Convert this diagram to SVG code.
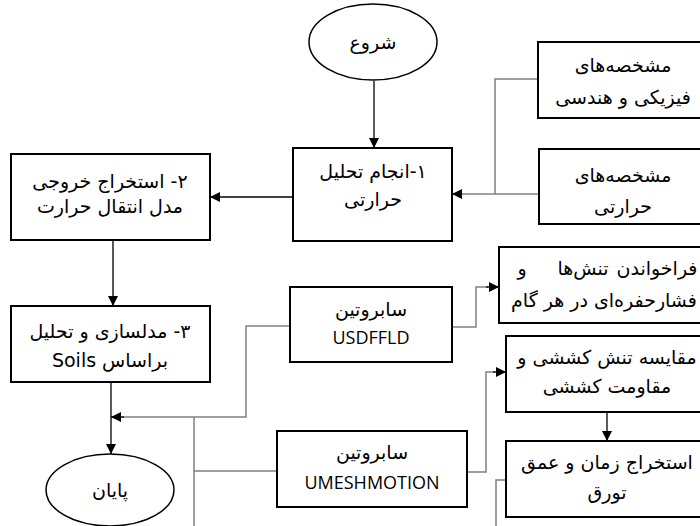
<svg xmlns="http://www.w3.org/2000/svg" width="700" height="526" viewBox="0 0 700 526">
<defs>
<marker id="ah" viewBox="0 0 10 10" refX="10" refY="5" markerWidth="10" markerHeight="10" markerUnits="userSpaceOnUse" orient="auto">
<path d="M0,0 L10,5 L0,10 z" fill="#000"/>
</marker>
<style>
.box{fill:#fff;stroke:#000;stroke-width:2}
.t{font-family:"DejaVu Sans","Liberation Sans",sans-serif;font-size:19px;fill:#000;text-anchor:middle;direction:rtl}
.l{font-family:"Open Sans","DejaVu Sans",sans-serif;font-size:18px;fill:#000;text-anchor:middle}
.k{fill:none;stroke:#000;stroke-width:1.3}
.g{fill:none;stroke:#808080;stroke-width:1.5}
</style>
</defs>
<rect width="700" height="526" fill="#fff"/>
<g id="connectors">
<path class="k" d="M374,81 V148" marker-end="url(#ah)"/>
<path class="g" d="M538,79 H495 V194"/>
<path class="g" d="M539,194 H462"/>
<path class="k" d="M462,194 H452" marker-end="url(#ah)"/>
<path class="k" d="M293,197 H210" marker-end="url(#ah)"/>
<path class="k" d="M113,240 V306" marker-end="url(#ah)"/>
<path class="k" d="M111,382 V454" marker-end="url(#ah)"/>
<path class="g" d="M290,326 H246 V417 H122"/>
<path class="k" d="M124,417 H111" marker-end="url(#ah)"/>
<path class="g" d="M194,417 V526 M194,471 H277"/>
<path class="g" d="M452,327 H476 V287 H488"/>
<path class="k" d="M486,287 H499" marker-end="url(#ah)"/>
<path class="g" d="M467,472 H486 V372 H495"/>
<path class="k" d="M493,372 H506" marker-end="url(#ah)"/>
<path class="k" d="M607,412 V441" marker-end="url(#ah)"/>
<path class="g" d="M506,480 H496 V526"/>
</g>
<g id="start">
<ellipse cx="373" cy="42" rx="64" ry="38" fill="#fff" stroke="#000" stroke-width="1.5"/>
<text class="t" x="373" y="49">شروع</text>
</g>
<g id="n1">
<rect class="box" x="293" y="148" width="159" height="93"/>
<text class="t" x="373" y="178">۱-انجام تحلیل</text>
<text class="t" x="373" y="206">حرارتی</text>
</g>
<g id="phys">
<rect class="box" x="538" y="42" width="170" height="76"/>
<text class="t" x="623" y="72">مشخصه‌های</text>
<text class="t" x="623" y="104">فیزیکی و هندسی</text>
</g>
<g id="therm">
<rect class="box" x="539" y="149" width="170" height="75"/>
<text class="t" x="623" y="182">مشخصه‌های</text>
<text class="t" x="623" y="213">حرارتی</text>
</g>
<g id="n2">
<rect class="box" x="11" y="154" width="199" height="86"/>
<text class="t" x="110" y="188">۲- استخراج خروجی</text>
<text class="t" x="110" y="213">مدل انتقال حرارت</text>
</g>
<g id="n3">
<rect class="box" x="11" y="306" width="199" height="76"/>
<text class="t" x="110" y="338">۳- مدلسازی و تحلیل</text>
<text class="t" x="110" y="367">براساس Soils</text>
</g>
<g id="end">
<ellipse cx="110" cy="490" rx="64" ry="36" fill="#fff" stroke="#000" stroke-width="1.5"/>
<text class="t" x="110" y="497">پایان</text>
</g>
<g id="usdfld">
<rect class="box" x="290" y="287" width="162" height="75"/>
<text class="t" x="371" y="316">سابروتین</text>
<text class="l" x="371" y="344">USDFFLD</text>
</g>
<g id="call">
<rect class="box" x="499" y="247" width="210" height="76"/>
<text class="t" x="657" y="275">فراخواندن</text>
<text class="t" x="583" y="275">تنش‌ها</text>
<text class="t" x="522" y="275">و</text>
<text class="t" x="604" y="307">فشارحفره‌ای در هر گام</text>
</g>
<g id="umesh">
<rect class="box" x="277" y="431" width="190" height="76"/>
<text class="t" x="372" y="459">سابروتین</text>
<text class="l" x="372" y="489">UMESHMOTION</text>
</g>
<g id="compare">
<rect class="box" x="506" y="336" width="203" height="76"/>
<text class="t" x="607" y="364">مقایسه تنش کششی و</text>
<text class="t" x="607" y="393">مقاومت کششی</text>
</g>
<g id="extract">
<rect class="box" x="506" y="441" width="203" height="76"/>
<text class="t" x="607" y="469">استخراج زمان و عمق</text>
<text class="t" x="607" y="499">تورق</text>
</g>
</svg>
